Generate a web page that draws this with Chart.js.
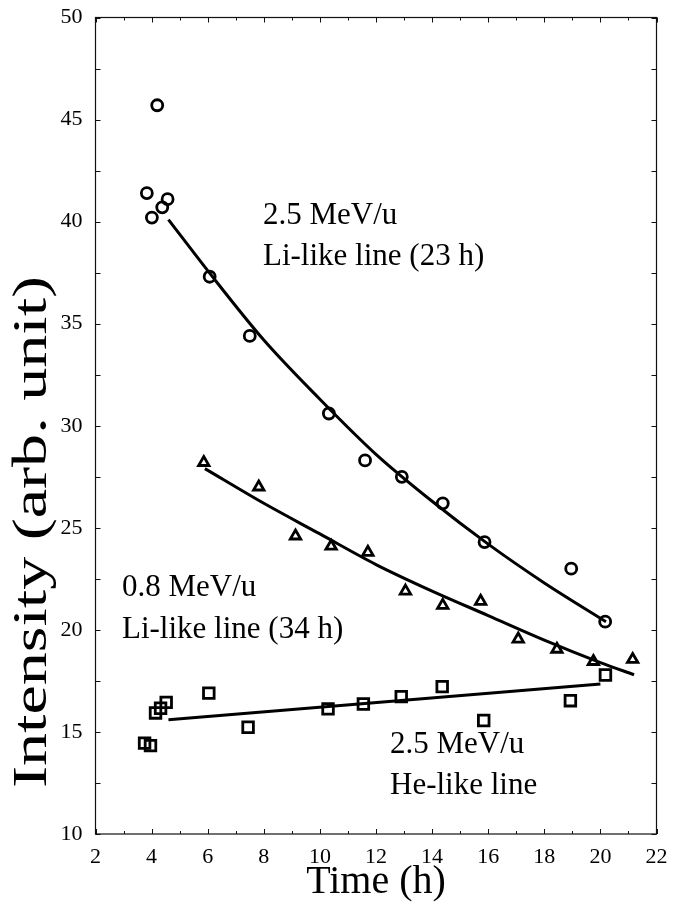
<!DOCTYPE html>
<html><head><meta charset="utf-8">
<script src="https://cdn.jsdelivr.net/npm/chart.js@4"></script>
<style>html,body{margin:0;padding:0;background:#fff}canvas{display:block}</style>
</head><body>
<canvas id="c" width="680" height="906"></canvas>
<script>
// ---- data ----
const xTickValues = [2,4,6,8,10,12,14,16,18,20,22];
const yTickValues = [10,15,20,25,30,35,40,45,50];

// 2.5 MeV/u Li-like line (circles)
const li25X = [3.83,4.01,4.20,4.38,4.57,6.07,7.50,10.32,11.61,12.92,14.38,15.87,18.96,20.17];
const li25Y = [41.4,40.2,45.7,40.7,41.1,37.3,34.4,30.6,28.3,27.5,26.2,24.3,23.0,20.4];
// 0.8 MeV/u Li-like line (triangles)
const li08X = [5.86,7.82,9.13,10.40,11.71,13.05,14.38,15.73,17.07,18.45,19.75,21.15];
const li08Y = [28.2,27.0,24.6,24.1,23.8,21.9,21.2,21.4,19.55,19.05,18.45,18.55];
// 2.5 MeV/u He-like line (squares)
const heX = [3.75,3.96,4.14,4.32,4.52,6.04,7.44,10.29,11.55,12.90,14.36,15.84,18.93,20.18];
const heY = [14.45,14.33,15.93,16.16,16.45,16.9,15.23,16.13,16.37,16.73,17.22,15.56,16.53,17.79];

// fitted curves
const li25FitX = [4.6,6,8,10,12,14,16,18,20.2];
const li25FitY = [40.1,37.6,34.2,31.3,28.6,26.3,24.2,22.3,20.4];
const li08FitX = [5.9,8,10,12,14,16,18,20,21.2];
const li08FitY = [27.9,26.2,24.7,23.2,21.9,20.7,19.5,18.4,17.8];
const heFitX = [4.6,20.0];
const heFitY = [15.6,17.35];

const annotationTexts = [
  ["2.5 MeV/u","Li-like line (23 h)"],
  ["0.8 MeV/u","Li-like line (34 h)"],
  ["2.5 MeV/u","He-like line"]
];
const xTitle = "Time (h)";
const yTitle = "Intensity (arb. unit)";

// ---- helpers ----
const pts = (xs, ys) => xs.map((x, i) => ({x, y: ys[i]}));
const SERIF = "'Liberation Serif', 'Times New Roman', serif";

const framePlugin = {
  id: 'frame',
  afterDraw(chart) {
    const {ctx, chartArea: a, scales: {x, y}} = chart;
    ctx.save();
    ctx.strokeStyle = '#111';
    ctx.lineWidth = 1.2;
    ctx.strokeRect(a.left, a.top, a.right - a.left, a.bottom - a.top);
    ctx.lineWidth = 1;
    ctx.beginPath();
    for (let v = 2; v <= 22; v += 1) {
      const px = Math.round(x.getPixelForValue(v)) + 0.5;
      const len = (v % 2 === 0) ? 5 : 3;
      ctx.moveTo(px, a.bottom); ctx.lineTo(px, a.bottom - len);
      ctx.moveTo(px, a.top); ctx.lineTo(px, a.top + len);
    }
    for (let v = 10; v <= 50; v += 2.5) {
      const py = Math.round(y.getPixelForValue(v)) + 0.5;
      ctx.moveTo(a.left, py); ctx.lineTo(a.left + 5, py);
      ctx.moveTo(a.right, py); ctx.lineTo(a.right - 5, py);
    }
    ctx.stroke();

    // annotations
    ctx.fillStyle = '#000';
    ctx.font = '31px ' + SERIF;
    ctx.textBaseline = 'alphabetic';
    ctx.textAlign = 'left';
    const pos = [[263, 224, 265], [122, 596, 638], [390, 753, 794]];
    annotationTexts.forEach((lines, i) => {
      ctx.fillText(lines[0], pos[i][0], pos[i][1]);
      ctx.fillText(lines[1], pos[i][0], pos[i][2]);
    });

    // y-axis title (elongated as in the reference)
    ctx.font = '48px ' + SERIF;
    const w = ctx.measureText(yTitle).width;
    ctx.translate(46, 532);
    ctx.rotate(-Math.PI / 2);
    ctx.scale(512 / w, 1);
    ctx.textAlign = 'center';
    ctx.fillText(yTitle, 0, 0);
    ctx.restore();
  }
};

new Chart(document.getElementById('c'), {
  type: 'scatter',
  data: {
    datasets: [
      {data: pts(li25X, li25Y), pointStyle: 'circle', pointRadius: 5.5, pointBorderWidth: 2.8,
       borderColor: '#000', backgroundColor: 'rgba(0,0,0,0)', showLine: false},
      {data: pts(li08X, li08Y), pointStyle: 'triangle', pointRadius: 6, pointBorderWidth: 2.8,
       borderColor: '#000', backgroundColor: 'rgba(0,0,0,0)', showLine: false},
      {data: pts(heX, heY), pointStyle: 'rect', pointRadius: 7.5, pointBorderWidth: 2.8,
       borderColor: '#000', backgroundColor: 'rgba(0,0,0,0)', showLine: false},
      {data: pts(li25FitX, li25FitY), showLine: true, pointRadius: 0, borderColor: '#000', borderWidth: 3, tension: 0.4, cubicInterpolationMode: 'monotone'},
      {data: pts(li08FitX, li08FitY), showLine: true, pointRadius: 0, borderColor: '#000', borderWidth: 3, tension: 0.4, cubicInterpolationMode: 'monotone'},
      {data: pts(heFitX, heFitY), showLine: true, pointRadius: 0, borderColor: '#000', borderWidth: 3}
    ]
  },
  options: {
    responsive: false,
    animation: false,
    devicePixelRatio: 1,
    layout: {padding: {top: 17.5, right: 23.5, left: 0, bottom: 0}},
    plugins: {legend: {display: false}, tooltip: {enabled: false}},
    scales: {
      x: {
        type: 'linear', min: 2, max: 22,
        afterBuildTicks: s => { s.ticks = xTickValues.map(v => ({value: v})); },
        afterFit: s => { s.height = 72; s.paddingLeft = 0; s.paddingRight = 0; },
        grid: {display: false, drawTicks: false},
        border: {display: false},
        ticks: {color: '#000', padding: 10, font: {family: SERIF, size: 22}, maxRotation: 0},
        title: {display: true, text: xTitle, color: '#000', font: {family: SERIF, size: 40}, padding: {top: 0, bottom: 0}}
      },
      y: {
        type: 'linear', min: 10, max: 50,
        afterBuildTicks: s => { s.ticks = yTickValues.map(v => ({value: v})); },
        afterFit: s => { s.width = 95.5; s.paddingTop = 0; s.paddingBottom = 0; },
        grid: {display: false, drawTicks: false},
        border: {display: false},
        ticks: {color: '#000', padding: 13, font: {family: SERIF, size: 22}},
        title: {display: false}
      }
    }
  },
  plugins: [framePlugin]
});
</script>
</body></html>
